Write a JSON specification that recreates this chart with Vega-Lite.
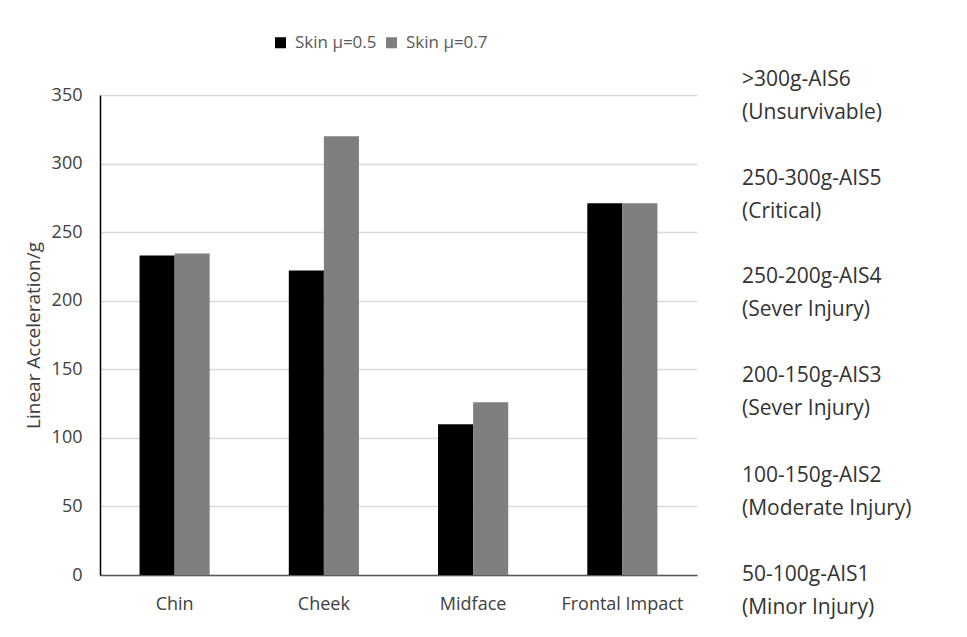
{
  "$schema": "https://vega.github.io/schema/vega-lite/v6.json",
  "autosize": "none",
  "width": 597,
  "height": 480,
  "padding": {"left": 100, "top": 95, "right": 270, "bottom": 62},
  "background": "white",
  "config": {
    "font": "Open Sans",
    "view": {"stroke": null}
  },
  "datasets": {
    "bars": [
      {"region": "Chin", "series": "Skin μ=0.5", "accel": 233},
      {"region": "Chin", "series": "Skin μ=0.7", "accel": 234.5},
      {"region": "Cheek", "series": "Skin μ=0.5", "accel": 222},
      {"region": "Cheek", "series": "Skin μ=0.7", "accel": 320},
      {"region": "Midface", "series": "Skin μ=0.5", "accel": 110},
      {"region": "Midface", "series": "Skin μ=0.7", "accel": 126},
      {"region": "Frontal Impact", "series": "Skin μ=0.5", "accel": 271},
      {"region": "Frontal Impact", "series": "Skin μ=0.7", "accel": 271}
    ],
    "notes": [
      {"label": ">300g-AIS6\n(Unsurvivable)", "level": 361},
      {"label": "250-300g-AIS5\n(Critical)", "level": 289},
      {"label": "250-200g-AIS4\n(Sever Injury)", "level": 217},
      {"label": "200-150g-AIS3\n(Sever Injury)", "level": 145},
      {"label": "100-150g-AIS2\n(Moderate Injury)", "level": 72},
      {"label": "50-100g-AIS1\n(Minor Injury)", "level": 0}
    ]
  },
  "layer": [
    {
      "data": {"name": "bars"},
      "mark": {"type": "bar"},
      "encoding": {
        "x": {
          "field": "region",
          "type": "nominal",
          "sort": ["Chin", "Cheek", "Midface", "Frontal Impact"],
          "scale": {"paddingInner": 0.53, "paddingOuter": 0.265},
          "axis": {
            "title": null,
            "labelAngle": 0,
            "labelFontSize": 18,
            "labelColor": "#404040",
            "labelPadding": 20,
            "ticks": false,
            "domainColor": "#595959",
            "domainWidth": 1.5
          }
        },
        "xOffset": {"field": "series", "type": "nominal", "sort": ["Skin μ=0.5", "Skin μ=0.7"]},
        "y": {
          "field": "accel",
          "type": "quantitative",
          "scale": {"domain": [0, 350], "nice": false},
          "axis": {
            "title": "Linear Acceleration/g",
            "titleFontSize": 19,
            "titleFontWeight": "normal",
            "titleColor": "#404040",
            "titlePadding": 8,
            "values": [0, 50, 100, 150, 200, 250, 300, 350],
            "labelFontSize": 18,
            "labelColor": "#404040",
            "labelPadding": 18,
            "ticks": false,
            "grid": true,
            "gridColor": "#d9d9d9",
            "gridWidth": 1.3,
            "domainColor": "#000000",
            "domainWidth": 1.5
          }
        },
        "color": {
          "field": "series",
          "type": "nominal",
          "scale": {"domain": ["Skin μ=0.5", "Skin μ=0.7"], "range": ["#000000", "#7f7f7f"]},
          "legend": {
            "title": null,
            "orient": "none",
            "direction": "horizontal",
            "legendX": 172,
            "legendY": -61,
            "symbolType": "square",
            "symbolSize": 121,
            "symbolStrokeWidth": 0,
            "labelFontSize": 17,
            "labelColor": "#595959",
            "labelOffset": 6,
            "columnPadding": 6
          }
        }
      }
    },
    {
      "data": {"name": "notes"},
      "mark": {
        "type": "text",
        "x": {"expr": "width + 45"},
        "align": "left",
        "baseline": "middle",
        "lineBreak": "\n",
        "lineHeight": 33,
        "fontSize": 21,
        "color": "#333333"
      },
      "encoding": {
        "y": {"field": "level", "type": "quantitative"},
        "text": {"field": "label"}
      }
    }
  ]
}
